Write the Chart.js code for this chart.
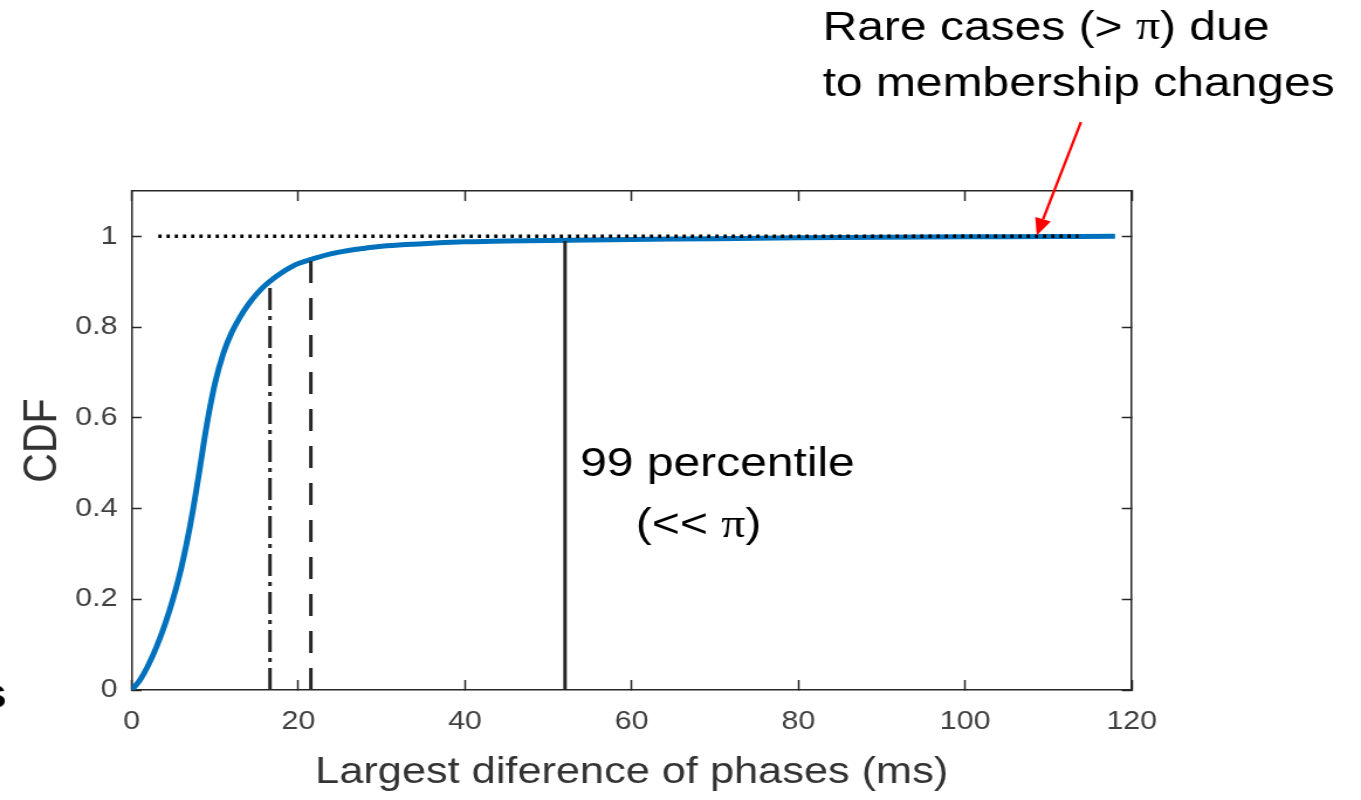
<!DOCTYPE html>
<html><head><meta charset="utf-8">
<script src="https://cdn.jsdelivr.net/npm/chart.js@4.4.1/dist/chart.umd.min.js"></script>
<style>
html,body{margin:0;padding:0;background:#fff;overflow:hidden;width:1361px;height:800px}
#wrap{position:absolute;left:0;top:0;width:1163px;height:800px;transform:scaleX(1.17025);transform-origin:0 0}
</style></head><body>
<div id="wrap"><canvas id="c"></canvas></div>
<script>
// ---- data ----
const phaseDiffMs = [0,1,2,3,4,5,6,7,8,9,10,11,12,13,14,15,16,17,18,19,20,22,24,26,28,30,33,36,40,45,50,55,60,70,80,90,100,110,118];
const cdfValues   = [0,0.022,0.055,0.096,0.145,0.203,0.273,0.361,0.468,0.583,0.676,0.742,0.788,0.822,0.850,0.873,0.892,0.907,0.920,0.931,0.940,0.952,0.962,0.969,0.974,0.978,0.982,0.985,0.988,0.990,0.991,0.992,0.993,0.995,0.997,0.998,0.999,0.9995,1.0];
const percentileX = [16.6, 21.5, 52];      // 90th, 95th, 99th percentile (ms)
const percentileY = [0.9, 0.95, 0.99];
const maxLineX = [3.2, 113.6];
const maxLineY = 1;
const xTickValues = [0,20,40,60,80,100,120];
const xTickLabels = ['0','20','40','60','80','100','120'];
const yTickValues = [0,0.2,0.4,0.6,0.8,1];
const yTickLabels = ['0','0.2','0.4','0.6','0.8','1'];
const xTitle = 'Largest diference of phases (ms)';
const yTitle = 'CDF';
const noteRare = ['Rare cases (> π) due', 'to membership changes'];
const notePct = ['99 percentile', '(<< π)'];

Chart.defaults.font.family = "'Liberation Sans', Arial, sans-serif";

const AX = '#262626';
const pts = (xs, ys) => xs.map((x, i) => ({x, y: Array.isArray(ys) ? ys[i] : ys}));

function drawRich(ctx, text, x, y, size) {
  const parts = text.split('π');
  let cx = x;
  parts.forEach((p, i) => {
    ctx.font = size + "px 'Liberation Sans', Arial, sans-serif";
    ctx.fillText(p, cx, y); cx += ctx.measureText(p).width;
    if (i < parts.length - 1) {
      ctx.font = size + "px 'Liberation Serif', 'Times New Roman', serif";
      ctx.fillText('π', cx, y); cx += ctx.measureText('π').width;
    }
  });
}

const notes = {
  id: 'notes',
  afterDraw(chart) {
    const ctx = chart.ctx, xs = chart.scales.x, ys = chart.scales.y;
    const px = v => xs.getPixelForValue(v), py = v => ys.getPixelForValue(v);
    ctx.save();
    // red arrow
    const x0 = px(113.9), y0 = py(1.252), x1 = px(108.6), y1 = py(1.002);
    const ang = Math.atan2(y1 - y0, x1 - x0);
    const L = 17, W = 7;
    const bx = x1 - L * Math.cos(ang), by = y1 - L * Math.sin(ang);
    ctx.strokeStyle = '#ff0000'; ctx.fillStyle = '#ff0000'; ctx.lineWidth = 2.3;
    ctx.beginPath(); ctx.moveTo(x0, y0); ctx.lineTo(bx, by); ctx.stroke();
    ctx.beginPath();
    ctx.moveTo(x1, y1);
    ctx.lineTo(bx + W * Math.sin(ang), by - W * Math.cos(ang));
    ctx.lineTo(bx - W * Math.sin(ang), by + W * Math.cos(ang));
    ctx.closePath(); ctx.fill();
    // texts
    ctx.fillStyle = '#000'; ctx.textBaseline = 'middle'; ctx.textAlign = 'left';
    drawRich(ctx, noteRare[0], px(82.9), py(1.4587), 41);
    drawRich(ctx, noteRare[1], px(82.9), py(1.334), 41);
    drawRich(ctx, notePct[0], px(53.8), py(0.4967), 41);
    drawRich(ctx, notePct[1], px(60.5), py(0.362), 41);
    // clipped letter at slide edge
    ctx.font = "bold 42px 'Liberation Sans', Arial, sans-serif";
    ctx.textBaseline = 'alphabetic';
    ctx.fillText('s', -17.5, 708);
    ctx.restore();
  }
};

const gridCommon = (tl) => ({display: true, drawOnChartArea: false, drawTicks: true, tickLength: tl, tickWidth: 1.5, tickColor: AX});
const borderCommon = {display: true, color: AX, width: 1.5};

new Chart(document.getElementById('c'), {
  type: 'line',
  data: {
    datasets: [
      {data: pts(maxLineX, maxLineY), borderColor: '#000', borderWidth: 3.5, borderDash: [2.8, 4.2], borderCapStyle: 'butt', pointRadius: 0},
      {data: [{x: percentileX[0], y: 0}, {x: percentileX[0], y: percentileY[0]}], borderColor: AX, borderWidth: 3, borderDash: [22, 6, 4, 6], pointRadius: 0},
      {data: [{x: percentileX[1], y: 0}, {x: percentileX[1], y: percentileY[1]}], borderColor: AX, borderWidth: 3, borderDash: [22, 15], pointRadius: 0},
      {data: [{x: percentileX[2], y: 0}, {x: percentileX[2], y: percentileY[2]}], borderColor: AX, borderWidth: 3, pointRadius: 0},
      {data: pts(phaseDiffMs, cdfValues), borderColor: '#0072BD', borderWidth: 5, pointRadius: 0, tension: 0.4, borderJoinStyle: 'round'}
    ]
  },
  options: {
    responsive: true, maintainAspectRatio: false, animation: false, devicePixelRatio: 1,
    layout: {padding: {left: 0, right: 195.9, top: 191, bottom: 0}},
    plugins: {legend: {display: false}, tooltip: {enabled: false}},
    scales: {
      x: {
        type: 'linear', position: 'bottom', min: 0, max: 120,
        afterBuildTicks: s => { s.ticks = xTickValues.map(v => ({value: v})); },
        afterFit: s => { s.height = 110; },
        grid: gridCommon(-10), border: borderCommon,
        ticks: {font: {size: 26}, color: '#404040', padding: 26, maxRotation: 0, autoSkip: false, callback: (v, i) => xTickLabels[i]},
        title: {display: true, text: xTitle, font: {size: 37}, color: '#333', padding: {top: 0, bottom: 5}}
      },
      x2: {
        type: 'linear', position: 'top', min: 0, max: 120,
        afterBuildTicks: s => { s.ticks = xTickValues.map(v => ({value: v})); },
        afterFit: s => { s.height = 0; },
        grid: gridCommon(-10), border: borderCommon, ticks: {display: false}
      },
      y: {
        type: 'linear', position: 'left', min: 0, max: 1.1,
        afterBuildTicks: s => { s.ticks = yTickValues.map(v => ({value: v})); },
        afterFit: s => { s.width = 112.5; },
        grid: gridCommon(-8.5), border: borderCommon,
        ticks: {font: {size: 26}, color: '#404040', padding: 20.5, autoSkip: false, callback: (v, i) => yTickLabels[i]},
        title: {display: true, text: yTitle, font: {size: 41}, color: '#333', padding: {top: 12.5, bottom: 0}}
      },
      y2: {
        type: 'linear', position: 'right', min: 0, max: 1.1,
        afterBuildTicks: s => { s.ticks = yTickValues.map(v => ({value: v})); },
        afterFit: s => { s.width = 0; },
        grid: gridCommon(-8.5), border: borderCommon, ticks: {display: false}
      }
    }
  },
  plugins: [notes]
});
</script>
</body></html>
